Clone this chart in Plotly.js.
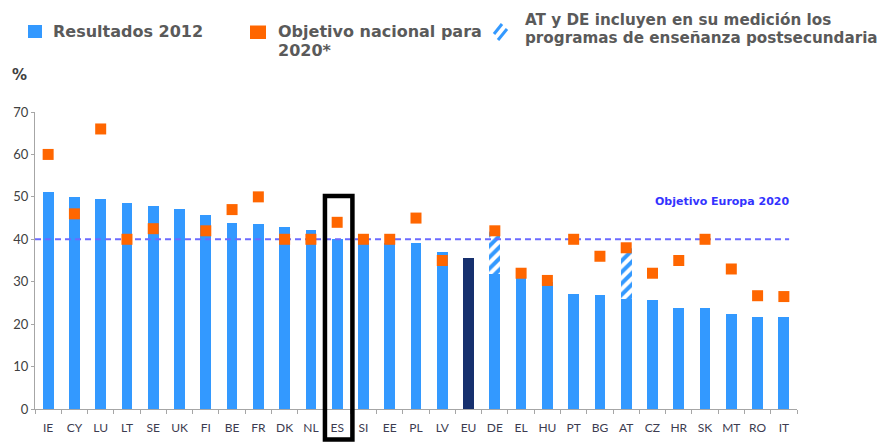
<!DOCTYPE html>
<html>
<head>
<meta charset="utf-8">
<script src="https://cdn.plot.ly/plotly-3.0.1.min.js"></script>
<style>html,body{margin:0;padding:0;background:#fff;}#chart{width:882px;height:442px;}</style>
</head>
<body>
<div id="chart"></div>
<script>
// ---- Data ----
const paises = ['IE','CY','LU','LT','SE','UK','FI','BE','FR','DK','NL','ES','SI','EE','PL','LV','EU','DE','EL','HU','PT','BG','AT','CZ','HR','SK','MT','RO','IT'];
const resultados2012 = [51.1,49.9,49.6,48.6,47.9,47.1,45.8,43.9,43.6,43.0,42.2,40.1,39.2,39.1,39.1,37.0,35.7,31.9,30.9,29.9,27.2,26.9,26.0,25.6,23.7,23.7,22.4,21.8,21.7];
const conPostsecundaria = [null,null,null,null,null,null,null,null,null,null,null,null,null,null,null,null,null,42.2,null,null,null,null,38.0,null,null,null,null,null,null];
const objetivoNacional = [60,46,66,40,42.5,null,42,47,50,40,40,44,40,40,45,35,null,42,32,30.3,40,36,38,32,35,40,33,26.7,26.5];
const objetivoEuropa = 40;
const yTicks = [0,10,20,30,40,50,60,70];
const destacado = 'ES';

// ---- Geometry helpers (layout only) ----
const M = {l:35, r:85, t:112, b:33};
const W = 882, H = 442;
const PW = W - M.l - M.r, PH = H - M.t - M.b;
const px2x = p => (p - M.l) / PW;
const px2y = p => (H - M.b - p) / PH;

const idx = paises.map((_, i) => i);
const extra = conPostsecundaria.map((v, i) => v == null ? null : +(v - resultados2012[i]).toFixed(2));
const barColors = paises.map(p => p === 'EU' ? '#16306e' : '#3399ff');

const traces = [
  {type:'bar', x:idx, y:resultados2012, width:0.41,
   marker:{color:barColors, line:{width:0}}, hoverinfo:'skip'},
  {type:'bar', x:idx, y:extra, width:0.41,
   marker:{color:'#ffffff', line:{width:0},
     pattern:{shape:'/', fgcolor:'#3399ff', bgcolor:'#ffffff', size:8, solidity:0.5}},
   hoverinfo:'skip'},
  {type:'scatter', mode:'lines', x:[-0.5, 28.2], y:[objetivoEuropa, objetivoEuropa],
   line:{color:'#6b6bff', width:2, dash:'6px,4px'}, hoverinfo:'skip'},
  {type:'scatter', mode:'markers', x:idx, y:objetivoNacional,
   marker:{symbol:'square', size:11, color:'#ff6600', line:{width:0}}, hoverinfo:'skip'}
];

const boundaries = paises.map((_, i) => i - 0.5).concat([paises.length - 0.5]);
const ei = paises.indexOf(destacado);

const legFont = {family:'DejaVu Sans', size:16, color:'#5a5a5a'};
const legFont2 = {family:'DejaVu Sans', size:15.2, color:'#5a5a5a'};
function txt(text, x, y, font, extraOpts) {
  return Object.assign({text:'<b>'+text+'</b>', xref:'paper', yref:'paper', x:px2x(x), y:px2y(y),
    xanchor:'left', yanchor:'middle', showarrow:false, font:font}, extraOpts||{});
}
function rectPx(x0,y0,x1,y1,color){
  return {type:'rect', xref:'paper', yref:'paper', x0:px2x(x0), x1:px2x(x1), y0:px2y(y1), y1:px2y(y0),
    fillcolor:color, line:{width:0}, layer:'above'};
}
function linePx(x0,y0,x1,y1,color,w){
  return {type:'line', xref:'paper', yref:'paper', x0:px2x(x0), x1:px2x(x1), y0:px2y(y0), y1:px2y(y1),
    line:{color:color, width:w}, layer:'above'};
}

const layout = {
  width:W, height:H, margin:M, paper_bgcolor:'#fff', plot_bgcolor:'#fff',
  showlegend:false, barmode:'stack',
  font:{family:'Lato', color:'#404040'},
  xaxis:{type:'linear', range:[-0.5, paises.length - 0.5], tickmode:'array', tickvals:idx, ticktext:paises,
    ticks:'', showgrid:false, zeroline:false, showline:true, linecolor:'#a6a6a6', linewidth:1,
    ticklabelstandoff:8,
    tickfont:{family:'Lato', size:12, color:'#3c3c50'},
    minor:{tickmode:'array', tickvals:boundaries, ticks:'outside', ticklen:4, tickcolor:'#a6a6a6', showgrid:false}},
  yaxis:{range:[0,70], tickmode:'array', tickvals:yTicks, ticks:'outside', ticklen:3, tickcolor:'#a6a6a6',
    showgrid:false, zeroline:false, showline:true, linecolor:'#a6a6a6', linewidth:1,
    tickfont:{family:'Lato', size:13, color:'#404040'}},
  shapes:[
    {type:'rect', xref:'x', yref:'paper', x0:ei-0.465, x1:ei+0.58, y0:-0.103, y1:50.2/70,
     line:{color:'#000', width:4.5}, fillcolor:'rgba(0,0,0,0)', layer:'above'},
    rectPx(28,25,42,38,'#3399ff'),
    rectPx(250,25.5,266,39,'#ff6600'),
    linePx(494,34,502,24,'#3399ff',3),
    linePx(498,40,507,29,'#3399ff',3)
  ],
  annotations:[
    txt('Resultados 2012', 51, 31, legFont),
    txt('Objetivo nacional para', 276, 31.5, legFont),
    txt('2020*', 276, 50, legFont),
    txt('AT y DE incluyen en su medición los', 523, 20, legFont2),
    txt('programas de enseñanza postsecundaria', 523, 38, legFont2),
    txt('%', 10, 75, {family:'DejaVu Sans', size:15, color:'#404040'}),
    {text:'<b>Objetivo Europa 2020</b>', xref:'paper', yref:'y', x:px2x(721.7), y:48.9,
     xanchor:'center', yanchor:'middle', showarrow:false,
     font:{family:'DejaVu Sans', size:11, color:'#3333ff'}}
  ]
};

Plotly.newPlot('chart', traces, layout, {staticPlot:true, displayModeBar:false});
</script>
</body>
</html>
